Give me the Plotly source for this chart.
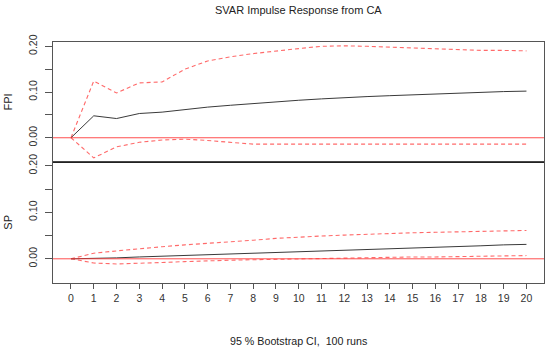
import plotly.graph_objects as go

horizon = list(range(21))

fpi_irf = [0.0, 0.048, 0.042, 0.053, 0.056, 0.062, 0.067, 0.071, 0.075, 0.079, 0.082,
           0.085, 0.088, 0.090, 0.092, 0.094, 0.096, 0.098, 0.099, 0.101, 0.102]
fpi_upper = [0.0, 0.124, 0.098, 0.120, 0.122, 0.150, 0.168, 0.177, 0.184, 0.190, 0.195,
             0.200, 0.201, 0.200, 0.198, 0.196, 0.194, 0.192, 0.191, 0.191, 0.190]
fpi_lower = [0.0, -0.044, -0.020, -0.010, -0.005, -0.003, -0.006, -0.010, -0.014, -0.014, -0.014,
             -0.014, -0.014, -0.014, -0.014, -0.014, -0.014, -0.014, -0.014, -0.014, -0.014]

sp_irf = [0.0, 0.0005, 0.002, 0.004, 0.0055, 0.007, 0.0085, 0.010, 0.012, 0.014, 0.016,
          0.0175, 0.019, 0.0205, 0.022, 0.0235, 0.025, 0.0265, 0.028, 0.030, 0.031]
sp_upper = [0.0, 0.012, 0.017, 0.022, 0.026, 0.030, 0.033, 0.037, 0.040, 0.044, 0.047,
            0.049, 0.051, 0.053, 0.0545, 0.056, 0.057, 0.058, 0.059, 0.060, 0.061]
sp_lower = [0.0, -0.009, -0.011, -0.010, -0.008, -0.006, -0.004, -0.003, -0.002, -0.001, 0.000,
            0.001, 0.002, 0.002, 0.003, 0.004, 0.004, 0.005, 0.006, 0.006, 0.007]

ytick_vals = [0.0, 0.05, 0.10, 0.15, 0.20]
ytick_text = ["0.00", "", "0.10", "", "0.20"]

FONT = "Liberation Sans, Arial, sans-serif"
DASH_RED = "rgba(255,80,80,0.85)"
LINE_BLACK = "#3a3a3a"
AX = "#555555"

W, H = 550, 353
L, R, T, B = 52.7, 544.3, 41.7, 283.3
SEP = 162.3

fig = go.Figure()

def add_panel(xa, ya, irf, up, lo):
    fig.add_trace(go.Scatter(x=horizon, y=up, mode="lines", xaxis=xa, yaxis=ya,
                             line=dict(color=DASH_RED, width=1.1, dash="4px,3px"), showlegend=False))
    fig.add_trace(go.Scatter(x=horizon, y=lo, mode="lines", xaxis=xa, yaxis=ya,
                             line=dict(color=DASH_RED, width=1.1, dash="4px,3px"), showlegend=False))
    fig.add_trace(go.Scatter(x=horizon, y=irf, mode="lines", xaxis=xa, yaxis=ya,
                             line=dict(color=LINE_BLACK, width=1), showlegend=False))

add_panel("x", "y", fpi_irf, fpi_upper, fpi_lower)
add_panel("x2", "y2", sp_irf, sp_upper, sp_lower)

xrange = [-0.79, 20.77]
yrange1 = [-0.0537, 0.2094]
yrange2 = [-0.052, 0.2075]

sep_frac = (B - SEP) / (B - T)

common_y = dict(tickvals=ytick_vals, ticktext=ytick_text, tickangle=-90, ticks="outside",
                ticklen=7, tickcolor=AX, showline=True, linecolor=AX, mirror=True, automargin=False,
                ticklabelstandoff=4,
                showgrid=False, zeroline=False, tickfont=dict(family=FONT, size=10.5, color="#333"))

def px(xp):
    return (xp - L) / (R - L)

def py(yp):
    return (B - yp) / (B - T)

fig.update_layout(
    width=W, height=H, autosize=False,
    margin=dict(l=L, r=W - R, t=T, b=H - B, pad=0, autoexpand=False),
    paper_bgcolor="white", plot_bgcolor="white",
    xaxis=dict(domain=[0, 1], range=xrange, anchor="y", showticklabels=False, automargin=False,
               ticks="", showline=True, linecolor=AX, mirror=True, showgrid=False, zeroline=False),
    xaxis2=dict(domain=[0, 1], range=xrange, anchor="y2", tickvals=horizon, automargin=False,
                ticks="outside", ticklen=5, tickcolor=AX, showline=True, linecolor=AX, mirror=True,
                showgrid=False, zeroline=False, tickfont=dict(family=FONT, size=10.5, color="#333")),
    yaxis=dict(domain=[sep_frac, 1], range=yrange1, anchor="x", **common_y),
    yaxis2=dict(domain=[0, sep_frac], range=yrange2, anchor="x2", **common_y),
    annotations=[
        dict(text="SVAR Impulse Response from CA", x=px(298.5), y=py(10), xref="paper", yref="paper",
             xanchor="center", yanchor="middle",
             showarrow=False, font=dict(family=FONT, size=11, color="#222")),
        dict(text="95 % Bootstrap CI,  100 runs", x=px(298.5), y=py(341.5), xref="paper", yref="paper",
             xanchor="center", yanchor="middle",
             showarrow=False, font=dict(family=FONT, size=10.7, color="#222")),
        dict(text="FPI", x=px(8), y=py(102), xref="paper", yref="paper", textangle=-90,
             xanchor="center", yanchor="middle",
             showarrow=False, font=dict(family=FONT, size=11, color="#222")),
        dict(text="SP", x=px(8), y=py(222.5), xref="paper", yref="paper", textangle=-90,
             xanchor="center", yanchor="middle",
             showarrow=False, font=dict(family=FONT, size=11, color="#222")),
    ],
)

# zero reference lines
fig.add_shape(type="line", xref="x domain", yref="y", x0=0, x1=1, y0=0, y1=0,
              line=dict(color="rgba(255,60,60,0.9)", width=1))
fig.add_shape(type="line", xref="x2 domain", yref="y2", x0=0, x1=1, y0=0, y1=0,
              line=dict(color="rgba(255,60,60,0.9)", width=1))
# separator between panels
fig.add_shape(type="line", xref="paper", yref="paper", x0=0, x1=1, y0=sep_frac, y1=sep_frac,
              line=dict(color="#222222", width=1.3))

fig.write_html("out.html", config={"displayModeBar": False},
               post_script="document.body.style.margin='0';document.body.style.overflow='hidden';")
